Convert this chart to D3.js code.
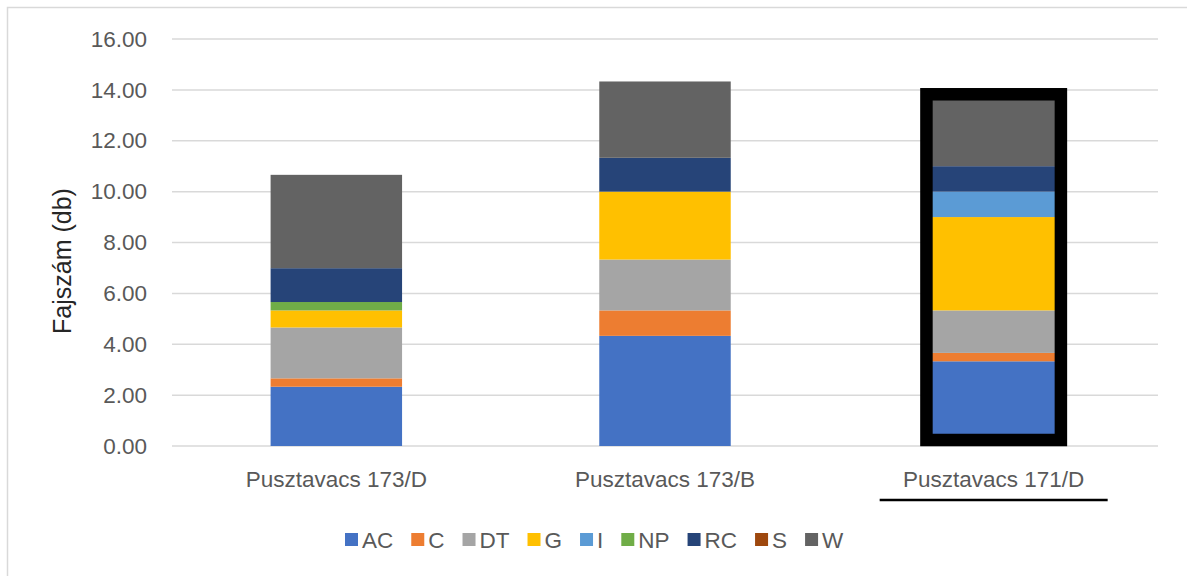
<!DOCTYPE html>
<html>
<head>
<meta charset="utf-8">
<script src="https://cdn.jsdelivr.net/npm/d3@7"></script>
<style>
  body { margin: 0; background: #fff; }
  text { font-family: "Liberation Sans", Arial, sans-serif; }
</style>
</head>
<body>
<div class="canvas"></div>
<script>
const WIDTH = 1187;
const HEIGHT = 576;
const margin = { top: 39, right: 29, bottom: 130, left: 172 };
const graphWidth = WIDTH - margin.left - margin.right;
const graphHeight = HEIGHT - margin.top - margin.bottom;

// data
const sites = ['Pusztavacs 173/D', 'Pusztavacs 173/B', 'Pusztavacs 171/D'];
const groups = ['AC', 'C', 'DT', 'G', 'I', 'NP', 'RC', 'S', 'W'];
const AC = [2.33, 4.33, 3.33];
const C = [0.33, 1.0, 0.33];
const DT = [2.0, 2.0, 1.67];
const G = [0.67, 2.67, 3.67];
const I = [0, 0, 1.0];
const NP = [0.33, 0, 0];
const RC = [1.33, 1.33, 1.0];
const S = [0, 0, 0];
const W = [3.67, 3.0, 2.67];
const yTicks = [0, 2, 4, 6, 8, 10, 12, 14, 16];
const highlighted = 'Pusztavacs 171/D';

// colors
const colors = ['#4472C4', '#ED7D31', '#A5A5A5', '#FFC000', '#5B9BD5', '#70AD47', '#264478', '#9E480E', '#636363'];
const gridGray = '#d9d9d9';
const textGray = '#595959';

const seriesValues = { AC, C, DT, G, I, NP, RC, S, W };
const rows = sites.map((site, i) => {
  const row = { site };
  groups.forEach(g => { row[g] = seriesValues[g][i]; });
  return row;
});

// svg and graph
const svg = d3.select('.canvas')
  .append('svg')
    .attr('width', WIDTH)
    .attr('height', HEIGHT);

// chart frame
svg.append('rect')
  .attr('x', 7.5)
  .attr('y', 7.5)
  .attr('width', WIDTH + 20)
  .attr('height', HEIGHT + 20)
  .attr('fill', 'none')
  .attr('stroke', gridGray)
  .attr('stroke-width', 1.5);

const graph = svg.append('g')
  .attr('transform', `translate(${margin.left}, ${margin.top})`);

// scales
const x = d3.scaleBand()
  .domain(sites)
  .range([0, graphWidth])
  .paddingInner(0.6)
  .paddingOuter(0.3);

const y = d3.scaleLinear()
  .domain([0, 16])
  .range([graphHeight, 0]);

const color = d3.scaleOrdinal()
  .domain(groups)
  .range(colors);

// gridlines
graph.append('g')
  .selectAll('line')
  .data(yTicks)
  .enter().append('line')
    .attr('x1', 0)
    .attr('x2', graphWidth)
    .attr('y1', d => y(d))
    .attr('y2', d => y(d))
    .attr('stroke', gridGray)
    .attr('stroke-width', 1.5);

// y axis
const yAxis = d3.axisLeft(y)
  .tickValues(yTicks)
  .tickSize(0)
  .tickPadding(25)
  .tickFormat(d3.format('.2f'));

const yAxisGroup = graph.append('g').call(yAxis);
yAxisGroup.select('.domain').remove();
yAxisGroup.selectAll('text')
  .attr('fill', textGray)
  .style('font-size', '22.5px');

// x axis
const xAxis = d3.axisBottom(x).tickSize(0).tickPadding(25);
const xAxisGroup = graph.append('g')
  .attr('transform', `translate(0, ${graphHeight})`)
  .call(xAxis);
xAxisGroup.select('.domain').remove();
xAxisGroup.selectAll('text')
  .attr('fill', textGray)
  .style('font-size', '22.5px');

// underline on highlighted label
xAxisGroup.append('line')
  .attr('x1', x(highlighted) + x.bandwidth() / 2 - 114)
  .attr('x2', x(highlighted) + x.bandwidth() / 2 + 114)
  .attr('y1', 54)
  .attr('y2', 54)
  .attr('stroke', '#000')
  .attr('stroke-width', 2.5);

// stacked bars
const stack = d3.stack().keys(groups);
const layers = stack(rows);

graph.append('g')
  .selectAll('g')
  .data(layers)
  .enter().append('g')
    .attr('fill', d => color(d.key))
  .selectAll('rect')
  .data(d => d)
  .enter().append('rect')
    .attr('x', d => x(d.data.site))
    .attr('width', x.bandwidth())
    .attr('y', d => y(d[1]))
    .attr('height', d => y(d[0]) - y(d[1]));

// highlight border around one bar
const hlTotal = d3.sum(groups, g => rows.find(r => r.site === highlighted)[g]);
graph.append('rect')
  .attr('x', x(highlighted) - 1.5)
  .attr('width', x.bandwidth() + 3)
  .attr('y', y(hlTotal) - 4)
  .attr('height', y(0) - 6 - (y(hlTotal) - 4))
  .attr('fill', 'none')
  .attr('stroke', '#000')
  .attr('stroke-width', 12.5);

// y axis title
svg.append('text')
  .attr('transform', `translate(62, 261) rotate(-90)`)
  .attr('text-anchor', 'middle')
  .attr('dominant-baseline', 'central')
  .attr('fill', '#262626')
  .style('font-size', '25px')
  .text('Fajszám (db)');

// legend
const legend = svg.append('g')
  .attr('transform', `translate(0, 548)`);

let lx = 345;
groups.forEach(g => {
  const item = legend.append('g').attr('transform', `translate(${lx}, 0)`);
  item.append('rect')
    .attr('x', 0)
    .attr('y', -15)
    .attr('width', 13)
    .attr('height', 13)
    .attr('fill', color(g));
  const t = item.append('text')
    .attr('x', 17)
    .attr('y', 0)
    .attr('fill', textGray)
    .style('font-size', '22.5px')
    .text(g);
  lx += 17 + t.node().getComputedTextLength() + 18;
});
</script>
</body>
</html>
